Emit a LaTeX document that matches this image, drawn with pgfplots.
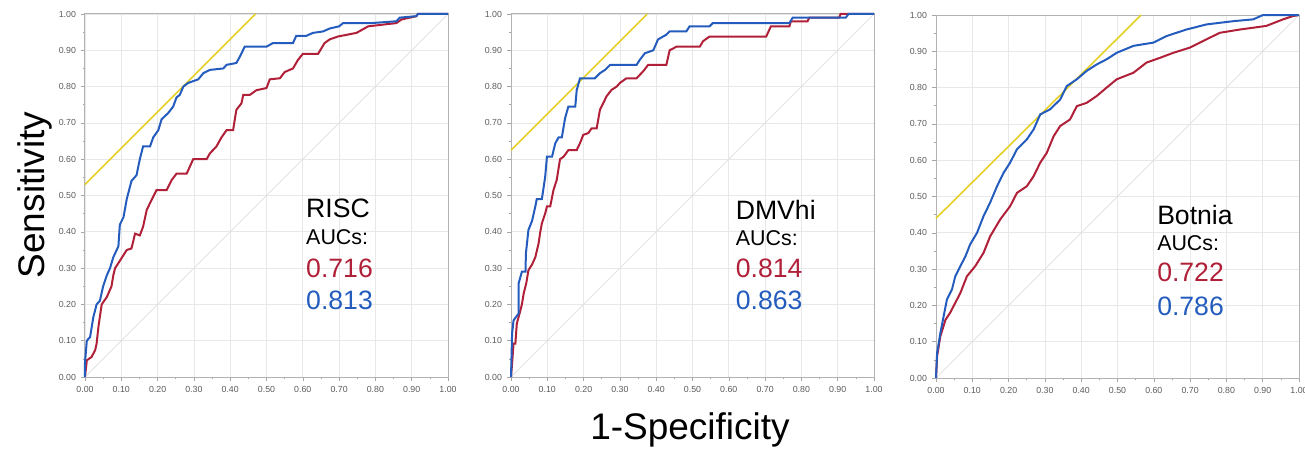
\documentclass[border=0pt]{standalone}
\usepackage{fontspec}
\setmainfont{Liberation Sans}
\usepackage{pgfplots}
\pgfplotsset{compat=1.18}

\definecolor{rocblue}{RGB}{36,92,190}
\definecolor{rocred}{RGB}{176,32,56}
\definecolor{rocyellow}{RGB}{228,208,40}
\definecolor{tickgray}{RGB}{90,90,90}

\pgfplotsset{
  rocax/.style={
    scale only axis, width=181.5pt, height=181.5pt,
    xmin=0, xmax=1, ymin=0, ymax=1,
    xtick={0,0.1,...,1.01}, ytick={0,0.1,...,1.01},
    minor tick num=1,
    tick align=outside, tick pos=left,
    major tick length=2pt, minor tick length=1.2pt,
    tick style={gray!70, line width=0.3pt},
    grid=major,
    major grid style={gray!18, line width=0.35pt},
    axis line style={gray!60, line width=0.5pt},
    ticklabel style={font=\fontsize{4.4}{5}\selectfont, text=tickgray},
    /pgf/number format/.cd, fixed, fixed zerofill, precision=2, assume math mode=true,
    /pgfplots/.cd,
    xticklabel style={yshift=1pt},
    yticklabel style={xshift=1pt},
    clip=false,
  },
  curveb/.style={rocblue, line width=1pt},
  curver/.style={rocred, line width=1pt},
  tang/.style={rocyellow, line width=0.8pt},
  diag/.style={gray!22, line width=0.4pt},
}

\begin{document}
\begin{tikzpicture}
\useasboundingbox (0,0) rectangle (652.5pt,225pt);

% RISC
\begin{axis}[rocax, at={(42.5pt,36.5pt)}, anchor=south west]
\addplot[diag] coordinates {(0,0) (1,1)};
\addplot[tang] coordinates {(0,0.53) (0.47,1)};
\addplot[curver] coordinates {(0,0) (0.005,0.046) (0.018,0.055) (0.028,0.074) (0.032,0.092) (0.037,0.138) (0.041,0.166) (0.046,0.20) (0.06,0.22) (0.073,0.25) (0.078,0.28) (0.083,0.30) (0.096,0.32) (0.115,0.35) (0.128,0.354) (0.138,0.395) (0.151,0.39) (0.16,0.414) (0.17,0.46) (0.183,0.487) (0.197,0.515) (0.225,0.515) (0.239,0.543) (0.252,0.56) (0.28,0.56) (0.289,0.58) (0.298,0.60) (0.335,0.60) (0.344,0.616) (0.362,0.635) (0.376,0.66) (0.39,0.68) (0.408,0.68) (0.417,0.736) (0.431,0.754) (0.436,0.777) (0.454,0.777) (0.472,0.79) (0.5,0.796) (0.509,0.82) (0.537,0.823) (0.55,0.84) (0.573,0.85) (0.587,0.874) (0.6,0.89) (0.642,0.89) (0.66,0.92) (0.674,0.93) (0.697,0.938) (0.748,0.948) (0.78,0.966) (0.858,0.975) (0.872,0.985) (0.913,0.994) (0.917,1.0) (1,1)};
\addplot[curveb] coordinates {(0,0) (0,0.04) (0.005,0.10) (0.014,0.11) (0.023,0.165) (0.032,0.20) (0.041,0.21) (0.05,0.25) (0.06,0.28) (0.069,0.30) (0.078,0.33) (0.092,0.36) (0.096,0.42) (0.106,0.44) (0.115,0.49) (0.128,0.54) (0.142,0.556) (0.151,0.60) (0.16,0.635) (0.179,0.635) (0.188,0.66) (0.202,0.68) (0.211,0.71) (0.229,0.727) (0.243,0.745) (0.252,0.77) (0.261,0.777) (0.271,0.80) (0.284,0.81) (0.312,0.82) (0.326,0.837) (0.344,0.846) (0.381,0.85) (0.39,0.86) (0.417,0.865) (0.427,0.883) (0.44,0.91) (0.5,0.91) (0.518,0.92) (0.573,0.92) (0.582,0.94) (0.61,0.94) (0.628,0.948) (0.656,0.952) (0.674,0.96) (0.70,0.966) (0.711,0.975) (0.79,0.975) (0.858,0.98) (0.867,0.99) (0.913,0.994) (0.917,1.0) (1,1)};
\node[anchor=west, font=\fontsize{13.3}{14}\selectfont] at (axis cs:0.59,0.465) {RISC};
\node[anchor=west, font=\fontsize{10.7}{12}\selectfont] at (axis cs:0.59,0.385) {AUCs:};
\node[anchor=west, font=\fontsize{13.3}{14}\selectfont, text=rocred] at (axis cs:0.59,0.30) {0.716};
\node[anchor=west, font=\fontsize{13.3}{14}\selectfont, text=rocblue] at (axis cs:0.59,0.212) {0.813};
\end{axis}

% DMVhi
\begin{axis}[rocax, at={(255.5pt,36.5pt)}, anchor=south west]
\addplot[diag] coordinates {(0,0) (1,1)};
\addplot[tang] coordinates {(0,0.625) (0.375,1)};
\addplot[curver] coordinates {(0,0) (0.003,0.037) (0.007,0.092) (0.012,0.092) (0.016,0.147) (0.026,0.184) (0.03,0.20) (0.035,0.23) (0.042,0.258) (0.048,0.294) (0.058,0.31) (0.067,0.33) (0.076,0.368) (0.08,0.396) (0.085,0.423) (0.094,0.45) (0.099,0.47) (0.108,0.47) (0.117,0.515) (0.126,0.543) (0.135,0.60) (0.145,0.607) (0.158,0.625) (0.181,0.625) (0.19,0.644) (0.199,0.667) (0.213,0.672) (0.222,0.685) (0.236,0.685) (0.245,0.736) (0.254,0.754) (0.263,0.773) (0.277,0.791) (0.291,0.80) (0.30,0.81) (0.318,0.823) (0.346,0.823) (0.364,0.842) (0.378,0.86) (0.428,0.86) (0.437,0.90) (0.456,0.91) (0.52,0.91) (0.529,0.925) (0.547,0.938) (0.703,0.938) (0.716,0.966) (0.767,0.966) (0.771,0.98) (0.817,0.98) (0.822,0.99) (0.904,0.99) (0.908,1.0) (1,1)};
\addplot[curveb] coordinates {(0,0) (0.003,0.12) (0.007,0.156) (0.021,0.175) (0.021,0.258) (0.03,0.29) (0.04,0.29) (0.041,0.34) (0.048,0.405) (0.058,0.43) (0.067,0.47) (0.071,0.49) (0.085,0.49) (0.094,0.55) (0.099,0.607) (0.113,0.607) (0.122,0.644) (0.131,0.66) (0.14,0.66) (0.149,0.713) (0.158,0.745) (0.177,0.745) (0.181,0.79) (0.19,0.823) (0.231,0.823) (0.245,0.837) (0.259,0.846) (0.273,0.86) (0.346,0.86) (0.355,0.874) (0.369,0.892) (0.392,0.90) (0.405,0.93) (0.428,0.943) (0.437,0.952) (0.483,0.952) (0.492,0.966) (0.547,0.966) (0.556,0.975) (0.767,0.975) (0.776,0.99) (0.922,0.99) (0.93,1.0) (1,1)};
\node[anchor=west, font=\fontsize{13.3}{14}\selectfont] at (axis cs:0.60,0.46) {DMVhi};
\node[anchor=west, font=\fontsize{10.7}{12}\selectfont] at (axis cs:0.60,0.382) {AUCs:};
\node[anchor=west, font=\fontsize{13.3}{14}\selectfont, text=rocred] at (axis cs:0.60,0.30) {0.814};
\node[anchor=west, font=\fontsize{13.3}{14}\selectfont, text=rocblue] at (axis cs:0.60,0.21) {0.863};
\end{axis}

% Botnia
\begin{axis}[rocax, at={(468pt,36pt)}, anchor=south west]
\addplot[diag] coordinates {(0,0) (1,1)};
\addplot[tang] coordinates {(0,0.44) (0.565,1)};
\addplot[curver] coordinates {(0,0) (0.003,0.06) (0.012,0.115) (0.026,0.16) (0.039,0.18) (0.053,0.207) (0.067,0.234) (0.085,0.28) (0.108,0.308) (0.131,0.345) (0.149,0.39) (0.177,0.437) (0.204,0.473) (0.223,0.51) (0.25,0.528) (0.269,0.556) (0.287,0.593) (0.305,0.62) (0.324,0.666) (0.342,0.694) (0.369,0.712) (0.388,0.749) (0.415,0.758) (0.443,0.777) (0.47,0.80) (0.498,0.823) (0.544,0.841) (0.58,0.869) (0.617,0.882) (0.654,0.896) (0.699,0.91) (0.745,0.933) (0.782,0.951) (0.837,0.96) (0.874,0.965) (0.91,0.97) (0.956,0.988) (0.983,0.997) (1,1)};
\addplot[curveb] coordinates {(0,0) (0.003,0.069) (0.012,0.124) (0.021,0.17) (0.03,0.216) (0.044,0.244) (0.053,0.28) (0.067,0.308) (0.081,0.335) (0.094,0.368) (0.113,0.40) (0.131,0.446) (0.149,0.483) (0.168,0.528) (0.186,0.565) (0.204,0.593) (0.223,0.63) (0.25,0.657) (0.269,0.685) (0.287,0.726) (0.314,0.74) (0.342,0.767) (0.36,0.804) (0.388,0.823) (0.415,0.846) (0.443,0.864) (0.47,0.878) (0.498,0.896) (0.544,0.915) (0.599,0.924) (0.635,0.942) (0.69,0.96) (0.745,0.974) (0.819,0.983) (0.874,0.988) (0.901,1.0) (1,1)};
\node[anchor=west, font=\fontsize{13.3}{14}\selectfont] at (axis cs:0.59,0.45) {Botnia};
\node[anchor=west, font=\fontsize{10.7}{12}\selectfont] at (axis cs:0.59,0.372) {AUCs:};
\node[anchor=west, font=\fontsize{13.3}{14}\selectfont, text=rocred] at (axis cs:0.59,0.29) {0.722};
\node[anchor=west, font=\fontsize{13.3}{14}\selectfont, text=rocblue] at (axis cs:0.59,0.198) {0.786};
\end{axis}

\node[rotate=90, font=\fontsize{18.5}{20}\selectfont] at (17.5pt,127.5pt) {Sensitivity};
\node[font=\fontsize{18.5}{20}\selectfont] at (345pt,10pt) {1-Specificity};
\end{tikzpicture}
\end{document}
